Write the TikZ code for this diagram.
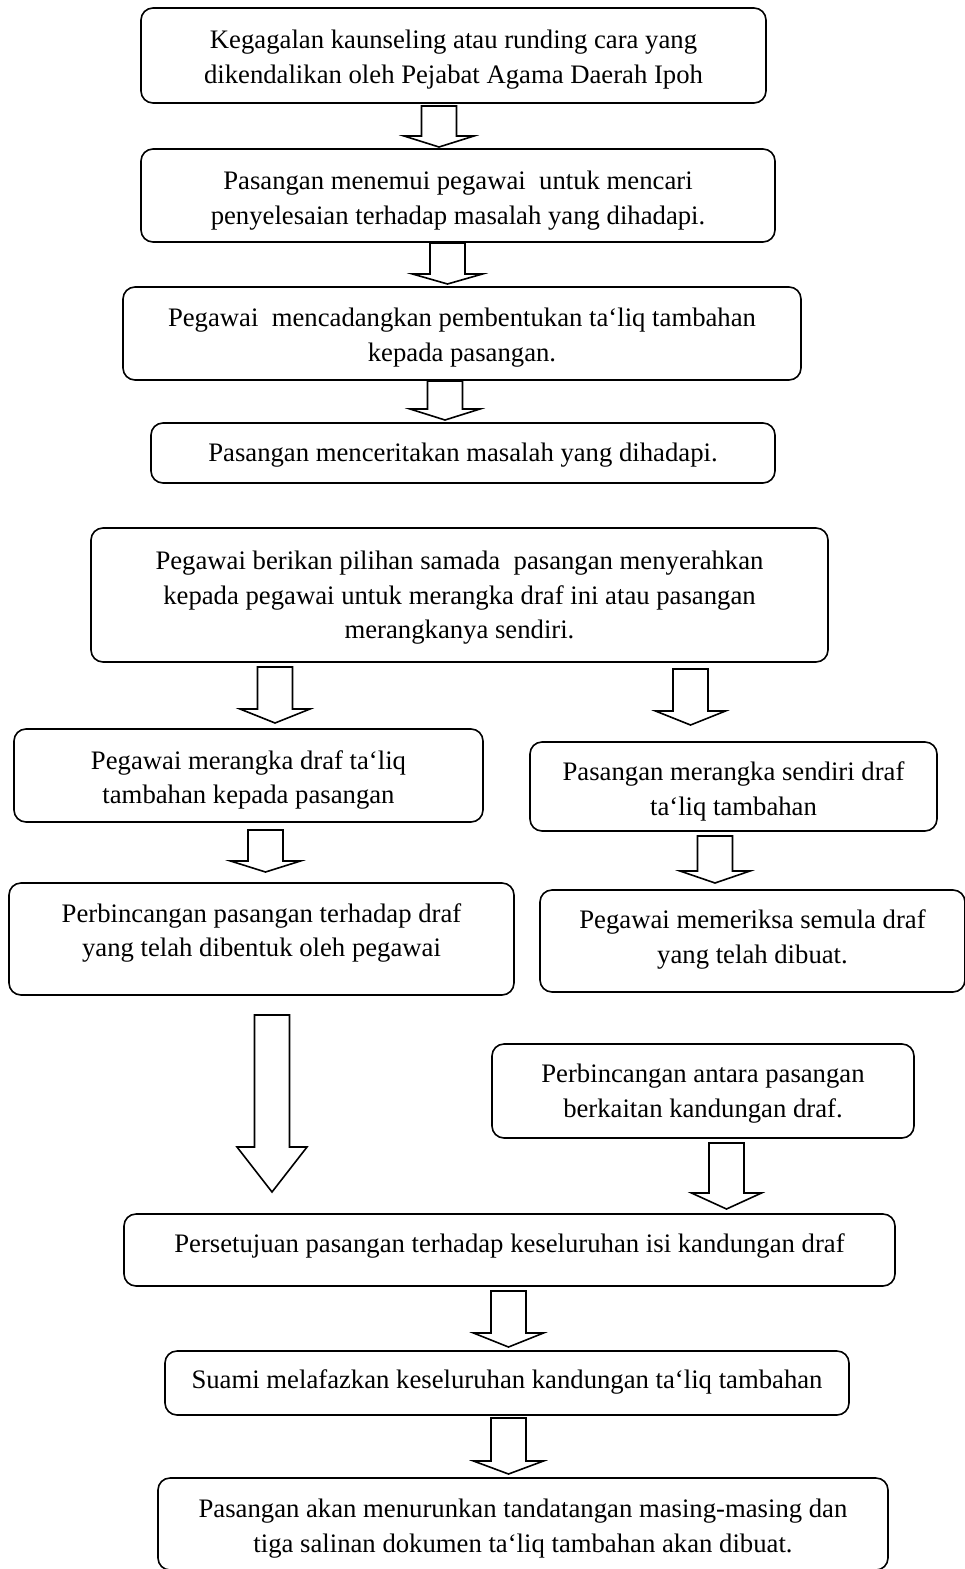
\documentclass[tikz,border=0pt]{standalone}
\usepackage{fontspec}
\setmainfont{Liberation Serif}
\usetikzlibrary{calc}

\begin{document}
\begin{tikzpicture}[x=1pt, y=-1pt,
  stage/.style={draw, rounded corners=12pt, line width=1.6pt, align=center,
    inner sep=0pt, outer sep=0pt, text depth=5.8pt,
    font=\fontsize{26.7}{34.5}\selectfont},
  hollow/.style={draw, line width=1.6pt, line join=miter}]

\useasboundingbox (0,0) rectangle (965,1569);

% Opening steps
\node[stage, minimum width=625pt, minimum height=95pt, text height=61.7pt] (b1) at (453.5,55.5)
  {Kegagalan kaunseling atau runding cara yang\\dikendalikan oleh Pejabat Agama Daerah Ipoh};
\node[stage, minimum width=634pt, minimum height=93pt, text height=63.7pt] (b2) at (458,195.5)
  {Pasangan menemui pegawai~ untuk mencari\\penyelesaian terhadap masalah yang dihadapi.};
\node[stage, minimum width=678pt, minimum height=93pt, text height=61.7pt] (b3) at (462,333.5)
  {Pegawai~ mencadangkan pembentukan ta‘liq tambahan\\kepada pasangan.};
\node[stage, minimum width=624pt, minimum height=60pt, text height=22.2pt] (b4) at (463,453)
  {Pasangan menceritakan masalah yang dihadapi.};

% Choice of who drafts
\node[stage, minimum width=737pt, minimum height=134pt, text height=93.2pt] (b5) at (459.5,595)
  {Pegawai berikan pilihan samada~ pasangan menyerahkan\\kepada pegawai untuk merangka draf ini atau pasangan\\merangkanya sendiri.};

% Left branch
\node[stage, minimum width=469pt, minimum height=93pt, text height=62.7pt] (b6l) at (248.5,775.5)
  {Pegawai merangka draf ta‘liq\\tambahan kepada pasangan};
\node[stage, minimum width=505pt, minimum height=112pt, text height=41.7pt] (b7l) at (261.5,939)
  {Perbincangan pasangan terhadap draf\\yang telah dibentuk oleh pegawai};

% Right branch
\node[stage, minimum width=407pt, minimum height=89pt, text height=63.7pt] (b6r) at (733.5,786.5)
  {Pasangan merangka sendiri draf\\ta‘liq tambahan};
\node[stage, minimum width=425pt, minimum height=102pt, text height=50.7pt] (b7r) at (752.5,941)
  {Pegawai memeriksa semula draf\\yang telah dibuat.};
\node[stage, minimum width=422pt, minimum height=94pt, text height=58.7pt] (b8r) at (703,1091)
  {Perbincangan antara pasangan\\berkaitan kandungan draf.};

% Closing steps
\node[stage, minimum width=771pt, minimum height=72pt, text height=10.2pt] (b9) at (509.5,1250)
  {Persetujuan pasangan terhadap keseluruhan isi kandungan draf};
\node[stage, minimum width=684pt, minimum height=64pt, text height=17.2pt] (b10) at (507,1383)
  {Suami melafazkan keseluruhan kandungan ta‘liq tambahan};
\node[stage, minimum width=730pt, minimum height=92pt, text height=62.7pt] (b11) at (523,1524)
  {Pasangan akan menurunkan tandatangan masing-masing dan\\tiga salinan dokumen ta‘liq tambahan akan dibuat.};

% Block arrows (x / from / to / top gap / tip gap / head length)
\foreach \xa/\src/\dst/\gtop/\gtip/\hd in {439/b1/b2/3/2/11, 447.5/b2/b3/1/3/10,
    445/b3/b4/1/3/11, 275/b5/b6l/5/6/14, 690.5/b5/b6r/7/17/14,
    265.5/b6l/b7l/8/11/11, 715/b6r/b7r/5/7/12, 272/b7l/b9/20/22/45,
    726.5/b8r/b9/5/5/16, 508.5/b9/b10/5/4/14, 508.5/b10/b11/3/4/13} {
  \draw[hollow] let \p1=(\src.south), \p2=(\dst.north) in
    (\xa-17.5,\y1-\gtop) -- (\xa+17.5,\y1-\gtop) -- (\xa+17.5,\y2+\gtip+\hd)
    -- (\xa+35,\y2+\gtip+\hd) -- (\xa,\y2+\gtip) -- (\xa-35,\y2+\gtip+\hd)
    -- (\xa-17.5,\y2+\gtip+\hd) -- cycle;
}
\end{tikzpicture}
\end{document}
